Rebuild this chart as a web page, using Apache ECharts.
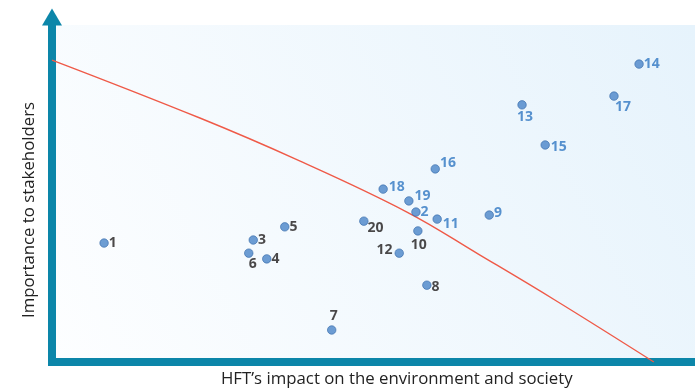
<!DOCTYPE html>
<html>
<head>
<meta charset="utf-8">
<script src="https://cdn.jsdelivr.net/npm/echarts@6/dist/echarts.min.js"></script>
<style>
  html, body { margin: 0; padding: 0; background: #fff; }
  #chart { width: 695px; height: 392px; }
</style>
</head>
<body>
<div id="chart"></div>
<script>
// issue numbers, impact (x) and importance (y) on a 0-100 scale
var issues = ["1", "2", "3", "4", "5", "6", "7", "8", "9", "10",
  "11", "12", "13", "14", "15", "16", "17", "18", "19", "20"];
var impact = [8.1, 56.6, 31.3, 33.4, 36.2, 30.6, 43.5, 58.3, 68.0, 56.9,
  59.9, 54.0, 73.1, 91.3, 76.7, 59.6, 87.4, 51.5, 55.5, 48.5];
var importance = [35.3, 44.5, 36.2, 30.6, 40.1, 32.3, 9.5, 22.8, 43.6, 38.9,
  42.4, 32.3, 76.3, 88.4, 64.4, 57.3, 78.9, 51.3, 47.8, 41.8];
// highlighted (blue) issues
var highlighted = ["2", "9", "11", "13", "14", "15", "16", "17", "18", "19"];
// threshold curve
var curveX = [0, 23.0, 37.9, 55.2, 66.5, 78.2, 93.6];
var curveY = [89.6, 72.4, 60.2, 44.5, 31.8, 18.4, 0];

var xName = "HFT\u2019s impact on the environment and society";
var yName = "Importance to stakeholders";

var axisColor = "#0c86a9";
var blue = "#2f77c2";
var dark = "#1e1a1a";

// label placement per issue
var labelPlace = {
  "6": { position: "bottom", offset: [4, -3] },
  "7": { position: "top", offset: [2, 0] },
  "8": { position: "right", offset: [-2, 2] },
  "9": { position: "right", offset: [-2, -2] },
  "10": { position: "bottom", offset: [1, 0] },
  "11": { position: "right", offset: [-1, 5] },
  "12": { position: "left", offset: [0, -3] },
  "13": { position: "bottom", offset: [3, -2] },
  "15": { position: "right", offset: [-1, 2] },
  "16": { position: "right", offset: [-2, -6] },
  "17": { position: "bottom", offset: [9, -3] },
  "18": { position: "right", offset: [-1, -2] },
  "19": { position: "right", offset: [-1, -5] },
  "20": { position: "right", offset: [-3, 7] }
};

var chart = echarts.init(document.getElementById("chart"));

var points = issues.map(function (n, i) {
  var place = labelPlace[n] || { position: "right", offset: [-2, 0] };
  return {
    name: n,
    value: [impact[i], importance[i]],
    label: {
      position: place.position,
      offset: place.offset,
      color: highlighted.indexOf(n) >= 0 ? blue : dark
    }
  };
});

var option = {
  animation: false,
  grid: {
    left: 52,
    right: 0,
    top: 25,
    bottom: 30,
    show: true,
    borderWidth: 0,
    backgroundColor: new echarts.graphic.LinearGradient(0, 1, 1, 0, [
      { offset: 0, color: "#fdfeff" },
      { offset: 1, color: "#e6f3fc" }
    ])
  },
  xAxis: {
    type: "value",
    min: 0,
    max: 100,
    axisLine: {
      show: true,
      lineStyle: { color: axisColor, width: 8, cap: "square" }
    },
    axisTick: { show: false },
    axisLabel: { show: false },
    splitLine: { show: false }
  },
  yAxis: {
    type: "value",
    min: 0,
    max: 100,
    axisLine: {
      show: true,
      symbol: ["none", "triangle"],
      symbolSize: [20, 17],
      symbolOffset: [0, 8],
      lineStyle: { color: axisColor, width: 8 }
    },
    axisTick: { show: false },
    axisLabel: { show: false },
    splitLine: { show: false }
  },
  graphic: [
    {
      type: "text",
      left: 221,
      top: 371,
      style: {
        text: xName,
        font: "16.8px 'Open Sans'",
        fill: "#222"
      }
    },
    {
      type: "text",
      x: 21,
      y: 318,
      rotation: Math.PI / 2,
      style: {
        text: yName,
        font: "16.8px 'Open Sans'",
        fill: "#222"
      }
    }
  ],
  series: [
    {
      type: "line",
      data: curveX.map(function (x, i) { return [x, curveY[i]]; }),
      smooth: 0.4,
      showSymbol: false,
      lineStyle: { color: "#ef5a48", width: 1.4 },
      z: 2,
      silent: true
    },
    {
      type: "scatter",
      data: points,
      symbolSize: 8.5,
      itemStyle: {
        color: "#4a84c8",
        borderColor: "#3569a8",
        borderWidth: 0.8
      },
      label: {
        show: true,
        formatter: "{b}",
        fontFamily: "Open Sans",
        fontWeight: "bold",
        fontSize: 14,
        distance: 2
      },
      z: 3
    }
  ]
};

chart.setOption(option);
window.addEventListener("resize", chart.resize);
</script>
</body>
</html>
